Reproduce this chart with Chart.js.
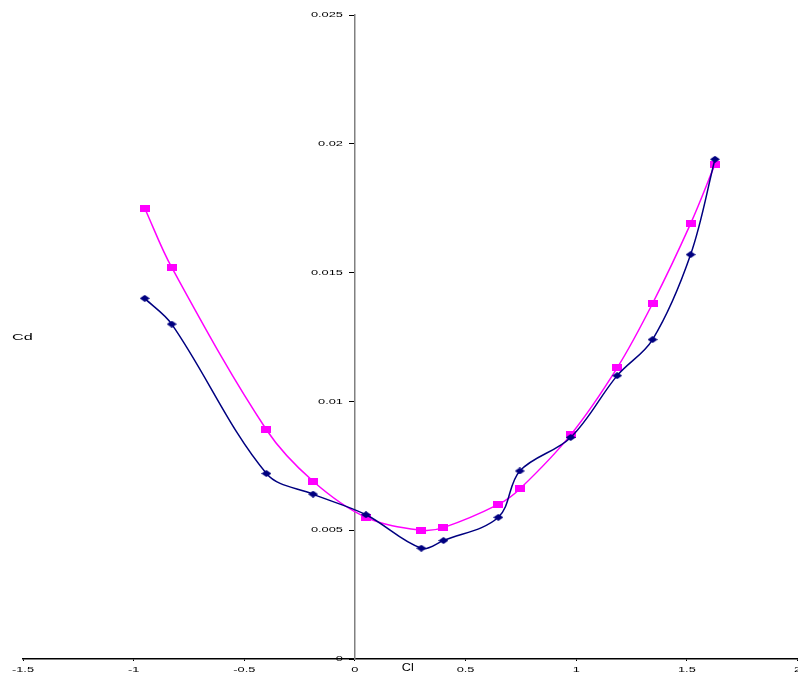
<!DOCTYPE html>
<html lang="en">
<head>
<meta charset="UTF-8">
<title>Cd vs Cl</title>
<script src="https://cdn.jsdelivr.net/npm/chart.js"></script>
<style>
    html, body { margin: 0; padding: 0; background: #fff; overflow: hidden; }
    .wrap { position: relative; width: 804px; height: 677px; }
</style>
</head>
<body>
<div class="wrap"><canvas id="chart"></canvas></div>
<script>
    // Cl values (shared by both polars)
    const clValues = [-0.95, -0.828, -0.40, -0.189, 0.05, 0.30, 0.40, 0.648, 0.745, 0.975, 1.185, 1.345, 1.517, 1.627];
    // Cd, first polar (navy diamonds)
    const cdNavy = [0.0140, 0.0130, 0.0072, 0.0064, 0.0056, 0.0043, 0.0046, 0.0055, 0.0073, 0.0086, 0.0110, 0.0124, 0.0157, 0.0194];
    // Cd, second polar (magenta squares)
    const cdMagenta = [0.0175, 0.0152, 0.0089, 0.0069, 0.0055, 0.0050, 0.0051, 0.0060, 0.0066, 0.0087, 0.0113, 0.0138, 0.0169, 0.0192];
    // axis ticks
    const xTicks = [-1.5, -1, -0.5, 0, 0.5, 1, 1.5, 2];
    const yTicks = [0, 0.005, 0.01, 0.015, 0.02, 0.025];

    const toPoints = ys => clValues.map((x, i) => ({ x, y: ys[i] }));
    const FONT = '"Liberation Sans", Arial, sans-serif';

    // markers are a bit flattened in the original, so build them as small canvases
    function marker(kind, color, w, h) {
        const c = document.createElement('canvas');
        c.width = w; c.height = h;
        const g = c.getContext('2d');
        g.fillStyle = color;
        if (kind === 'diamond') {
            g.beginPath();
            g.moveTo(w / 2, 0); g.lineTo(w, h / 2); g.lineTo(w / 2, h); g.lineTo(0, h / 2);
            g.closePath();
            g.fill();
        } else {
            g.fillRect(0, 0, w, h);
        }
        return c;
    }

    // the old chart has wide, squashed lettering, so text is drawn stretched
    function wideText(ctx, text, x, y, size, sx, align) {
        ctx.save();
        ctx.font = size + 'px ' + FONT;
        ctx.textBaseline = 'middle';
        const w = ctx.measureText(text).width * sx;
        let left = x;
        if (align === 'center') left = x - w / 2;
        if (align === 'right') left = x - w;
        ctx.translate(left, y);
        ctx.scale(sx, 1);
        ctx.textAlign = 'left';
        ctx.fillText(text, 0, 0);
        ctx.restore();
    }

    const axisText = {
        id: 'axisText',
        afterDraw(chart) {
            const { ctx, chartArea, scales } = chart;
            ctx.save();
            ctx.fillStyle = '#000';
            const x0 = scales.x.getPixelForValue(0);
            yTicks.forEach(v => {
                wideText(ctx, String(+v.toFixed(3)), x0 - 12, scales.y.getPixelForValue(v), 8, 1.6, 'right');
            });
            xTicks.forEach(v => {
                wideText(ctx, String(v), scales.x.getPixelForValue(v), chartArea.bottom + 11, 8, 1.6, 'center');
            });
            wideText(ctx, 'Cd', chartArea.left - 11, (chartArea.top + chartArea.bottom) / 2 + 1, 9, 1.8, 'left');
            wideText(ctx, 'Cl', scales.x.getPixelForValue(0.212), chartArea.bottom + 9, 11, 1.15, 'left');
            ctx.restore();
        }
    };

    new Chart(document.getElementById('chart'), {
        type: 'scatter',
        data: {
            datasets: [
                {
                    data: toPoints(cdNavy),
                    showLine: true,
                    borderColor: '#000080',
                    backgroundColor: '#000080',
                    borderWidth: 1.5,
                    tension: 0.35,
                    pointStyle: marker('diamond', '#000080', 10, 7),
                    pointRadius: 5
                },
                {
                    data: toPoints(cdMagenta),
                    showLine: true,
                    borderColor: '#ff00ff',
                    backgroundColor: '#ff00ff',
                    borderWidth: 1.5,
                    tension: 0.35,
                    pointStyle: marker('rect', '#ff00ff', 10, 7),
                    pointRadius: 5
                }
            ]
        },
        options: {
            responsive: true,
            maintainAspectRatio: false,
            animation: false,
            layout: { padding: { top: 15, left: 23, right: 0, bottom: 16 } },
            plugins: { legend: { display: false }, tooltip: { enabled: false } },
            scales: {
                x: {
                    type: 'linear',
                    min: -1.5,
                    max: 2,
                    afterBuildTicks: s => { s.ticks = xTicks.map(v => ({ value: v })); },
                    grid: { drawOnChartArea: false, drawTicks: true, tickLength: 2, color: '#000' },
                    border: { color: '#000', width: 1.5 },
                    ticks: { display: false }
                },
                y: {
                    type: 'linear',
                    position: { x: 0 },
                    min: 0,
                    max: 0.025,
                    afterBuildTicks: s => { s.ticks = yTicks.map(v => ({ value: v })); },
                    grid: { drawOnChartArea: false, drawTicks: true, tickLength: 5, color: '#000' },
                    border: { color: '#808080', width: 1.5 },
                    ticks: { display: false }
                }
            }
        },
        plugins: [axisText]
    });
</script>
</body>
</html>
